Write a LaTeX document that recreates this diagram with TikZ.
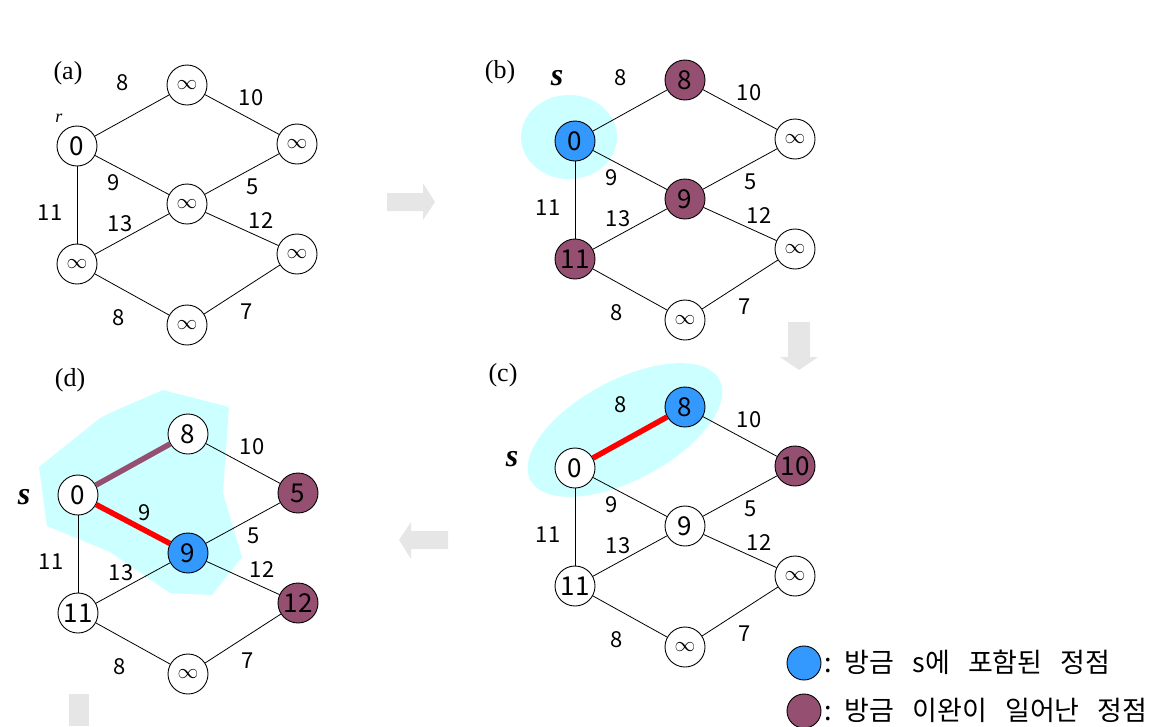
\documentclass[tikz,border=0pt]{standalone}
\usepackage{fontspec}
\setmainfont{Liberation Serif}
\newfontfamily\kr{Noto Sans CJK KR}
\newfontfamily\krleg[WordSpace=3]{Noto Sans CJK KR}
\definecolor{myblue}{RGB}{51,153,255}
\definecolor{mypurple}{RGB}{149,79,113}
\definecolor{mycyan}{RGB}{204,255,255}
\definecolor{myred}{RGB}{255,0,0}
\definecolor{arrowgray}{RGB}{230,230,230}
\newcommand\gedges[1]{%
  \draw[edge] (#1o) -- (#1t);
  \draw[edge] (#1t) -- (#1r);
  \draw[edge] (#1o) -- (#1m);
  \draw[edge] (#1m) -- (#1r);
  \draw[edge] (#1o) -- (#1l);
  \draw[edge] (#1l) -- (#1m);
  \draw[edge] (#1m) -- (#1q);
  \draw[edge] (#1l) -- (#1b);
  \draw[edge] (#1b) -- (#1q);}
\newcommand\glabels[2]{%
  \node[lbl] (#1w10) at (174,-48) {10};
  \node[lbl] (#1w9) at #2 {9};
  \node[lbl] (#1w5) at (176,41) {5};
  \node[lbl] (#1w11) at (-27,67) {11};
  \node[lbl] (#1w13) at (43,78) {13};
  \node[lbl] (#1w12) at (184,75) {12};
  \node[lbl] (#1wb8) at (42,172) {8};
  \node[lbl] (#1w7) at (170,166) {7};}
\tikzset{
  x=1pt, y=-1pt,
  vtx/.style={circle, draw, line width=0.9pt, minimum size=40pt, inner sep=0pt, fill=white, font=\kr\fontsize{26}{26}\selectfont},
  inf/.style={vtx, font=\kr\fontsize{21}{21}\selectfont},
  bluev/.style={fill=myblue},
  purv/.style={fill=mypurple},
  edge/.style={line width=0.8pt},
  lbl/.style={font=\kr\fontsize{22}{22}\selectfont, inner sep=0pt},
  panel/.style={font=\fontsize{26}{26}\selectfont, inner sep=0pt},
  sname/.style={font=\bfseries\itshape\fontsize{32}{32}\selectfont, inner sep=0pt},
  garrow/.style={fill=arrowgray, draw=none},
  legend/.style={font=\krleg\fontsize{27}{27}\selectfont, anchor=west, inner sep=0pt}
}
\begin{document}
\begin{tikzpicture}
\useasboundingbox (0,0) rectangle (1164,726);
% ---------------- (a)
\node[panel] (pa) at (68,73) {(a)};
\begin{scope}[shift={(77,146)}]
  \node[vtx] (ao) at (0,0) {0};
  \node[inf] (at) at (110,-61) {$\infty$};
  \node[inf] (ar) at (220,-2) {$\infty$};
  \node[inf] (am) at (110,58) {$\infty$};
  \node[inf] (al) at (0,118) {$\infty$};
  \node[inf] (aq) at (220,108) {$\infty$};
  \node[inf] (ab) at (110,179) {$\infty$};
  \gedges{a}
  \node[lbl] (aw8) at (46,-63) {8};
  \glabels{a}{(37,37)}
  \node[font=\itshape\fontsize{18}{18}\selectfont, inner sep=0pt] (ar0) at (-18,-28) {r};
\end{scope}
% ---------------- (b)
\node[panel] (pb) at (500,72) {(b)};
\node[sname] (sb) at (557,78) {s};
\begin{scope}[shift={(575,141)}]
  \fill[mycyan] (-6,-4) ellipse [x radius=48, y radius=42];
  \node[vtx, bluev] (bo) at (0,0) {0};
  \node[vtx, purv] (bt) at (110,-61) {8};
  \node[inf] (br) at (220,-2) {$\infty$};
  \node[vtx, purv] (bm) at (110,58) {9};
  \node[vtx, purv] (bl) at (0,118) {11};
  \node[inf] (bq) at (220,108) {$\infty$};
  \node[inf] (bb) at (110,179) {$\infty$};
  \gedges{b}
  \node[lbl] (bw8) at (46,-63) {8};
  \glabels{b}{(37,37)}
\end{scope}
% ---------------- (c)
\node[panel] (pc) at (503,375) {(c)};
\node[sname] (sc) at (512,459) {s};
\begin{scope}[shift={(575,468)}]
  \fill[mycyan, rotate around={28:(50,-38)}] (50,-38) ellipse [x radius=107, y radius=50];
  \node[vtx] (co) at (0,0) {0};
  \node[vtx, bluev] (ct) at (110,-61) {8};
  \node[vtx, purv] (cr) at (220,-2) {10};
  \node[vtx] (cm) at (110,58) {9};
  \node[vtx] (cl) at (0,118) {11};
  \node[inf] (cq) at (220,108) {$\infty$};
  \node[inf] (cb) at (110,179) {$\infty$};
  \gedges{c}
  \draw[line width=5.5pt, myred] (co) -- (ct);
  \node[lbl] (cw8) at (46,-63) {8};
  \glabels{c}{(37,37)}
\end{scope}
% ---------------- (d)
\node[panel] (pd) at (70,380) {(d)};
\node[sname] (sd) at (24,497) {s};
\fill[mycyan] (39,467) -- (100,418) -- (112,412) -- (163,390) -- (229,407) -- (223,493)
  -- (242,557) -- (212,595) -- (170,593) -- (110,552) -- (47,526) -- cycle;
\begin{scope}[shift={(78,495)}]
  \node[vtx] (do) at (0,0) {0};
  \node[vtx] (dt) at (110,-61) {8};
  \node[vtx, purv] (dr) at (220,-2) {5};
  \node[vtx, bluev] (dm) at (110,58) {9};
  \node[vtx] (dl) at (0,118) {11};
  \node[vtx, purv] (dq) at (220,108) {12};
  \node[inf] (db) at (110,179) {$\infty$};
  \gedges{d}
  \draw[line width=5.5pt, mypurple] (do) -- (dt);
  \draw[line width=5.5pt, myred] (do) -- (dm);
  \glabels{d}{(67,18)}
\end{scope}
% ---------------- grey arrows
\fill[garrow] (387,193) -- (423,193) -- (423,183) -- (435,202) -- (423,220) -- (423,211) -- (387,211) -- cycle;
\fill[garrow] (788,322) -- (810,322) -- (810,357) -- (818,357) -- (799,370) -- (780,357) -- (788,357) -- cycle;
\fill[garrow] (448,531) -- (411,531) -- (411,522) -- (399,540) -- (411,559) -- (411,549) -- (448,549) -- cycle;
\fill[garrow] (69,694) rectangle (89,726);
% ---------------- legend
\node[circle, draw, line width=0.9pt, fill=myblue, minimum size=34pt, inner sep=0pt] (lb) at (804,663) {};
\node[circle, draw, line width=0.9pt, fill=mypurple, minimum size=34pt, inner sep=0pt] (lp) at (804,711) {};
\node[legend] (tb) at (824,662) {:\hspace{13pt}방금 s에 포함된 정점};
\node[legend] (tp) at (824,710) {:\hspace{13pt}방금 이완이 일어난 정점};
\end{tikzpicture}
\end{document}
